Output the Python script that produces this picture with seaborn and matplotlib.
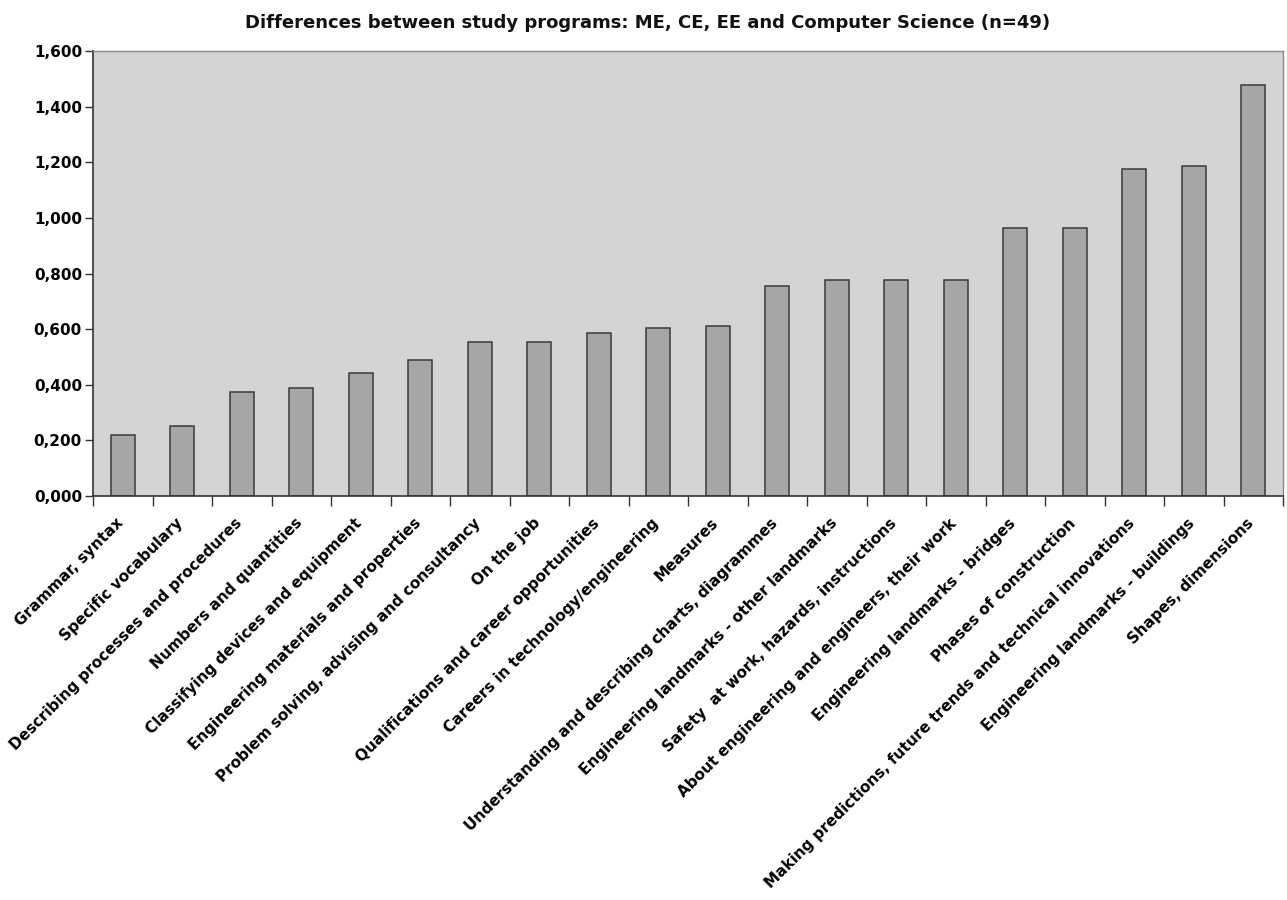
import matplotlib
matplotlib.use("Agg")
import matplotlib.pyplot as plt
import matplotlib.ticker as mticker
import matplotlib.transforms as mtransforms
import numpy as np
import pandas as pd
import seaborn as sns

# Topics ordered by the size of the difference between study programs
topics = [
    "Grammar, syntax",
    "Specific vocabulary",
    "Describing processes and procedures",
    "Numbers and quantities",
    "Classifying devices and equipment",
    "Engineering materials and properties",
    "Problem solving, advising and consultancy",
    "On the job",
    "Qualifications and career opportunities",
    "Careers in technology/engineering",
    "Measures",
    "Understanding and describing charts, diagrammes",
    "Engineering landmarks - other landmarks",
    "Safety  at work, hazards, instructions",
    "About engineering and engineers, their work",
    "Engineering landmarks - bridges",
    "Phases of construction",
    "Making predictions, future trends and technical innovations",
    "Engineering landmarks - buildings",
    "Shapes, dimensions",
]
differences = [
    0.220, 0.253, 0.375, 0.390, 0.442, 0.489, 0.555, 0.555, 0.587, 0.603,
    0.611, 0.755, 0.777, 0.777, 0.777, 0.965, 0.965, 1.177, 1.188, 1.478,
]
y_ticks = [0.0, 0.2, 0.4, 0.6, 0.8, 1.0, 1.2, 1.4, 1.6]

df = pd.DataFrame({"topic": topics, "difference": differences})

sns.set_style("white")
plt.rcParams["font.family"] = ["DejaVu Sans"]
plt.rcParams["text.color"] = "black"
plt.rcParams["xtick.color"] = "black"
plt.rcParams["ytick.color"] = "black"

fig = plt.figure(figsize=(12.87, 9.0), dpi=100)
ax = fig.add_axes([0.0723, 0.4489, 0.9246, 0.4944])
ax.set_facecolor("#d4d4d4")

sns.barplot(data=df, x="topic", y="difference", order=topics,
            color="#a6a6a6", edgecolor="#3a3a3a", linewidth=1.1,
            width=0.4, saturation=1, ax=ax)

n = len(topics)
ax.set_xlim(-0.5, n - 0.5)
ax.set_ylim(0, 1.6)
ax.set_yticks(y_ticks)
ax.yaxis.set_major_formatter(
    mticker.FuncFormatter(lambda v, _: f"{v:.3f}".replace(".", ","))
)
ax.set_xlabel("")
ax.set_ylabel("")

# Category labels at bar centres, tick marks on the category boundaries
ax.set_xticks(range(n))
ax.set_xticklabels(topics, rotation=45, ha="right", rotation_mode="anchor",
                   fontsize=11, fontweight="bold", color="black")
ax.set_xticks(np.arange(-0.5, n, 1.0), minor=True)
ax.tick_params(axis="x", which="major", length=0, pad=14)
ax.tick_params(axis="x", which="minor", length=7, width=1, color="#333333",
               direction="out", bottom=True)
ax.tick_params(axis="y", length=6, width=1, color="#333333", direction="out",
               left=True, labelsize=11, labelcolor="black", pad=2)
for lbl in ax.get_yticklabels():
    lbl.set_fontweight("bold")

# Nudge the slanted labels slightly left so they end under the bar centres
shift = mtransforms.ScaledTranslation(-5 / 72, 0, fig.dpi_scale_trans)
for tick in ax.xaxis.get_major_ticks():
    tick.label1.set_transform(tick.label1.get_transform() + shift)

for side in ("left", "bottom"):
    ax.spines[side].set_color("#333333")
    ax.spines[side].set_linewidth(1.2)
for side in ("top", "right"):
    ax.spines[side].set_color("#8a8a8a")
    ax.spines[side].set_linewidth(1.0)

fig.suptitle("Differences between study programs: ME, CE, EE and Computer Science (n=49)",
             x=0.503, y=0.985, fontsize=13, fontweight="bold", color="#111111")

fig.savefig("out.png", dpi=100, facecolor="white")
